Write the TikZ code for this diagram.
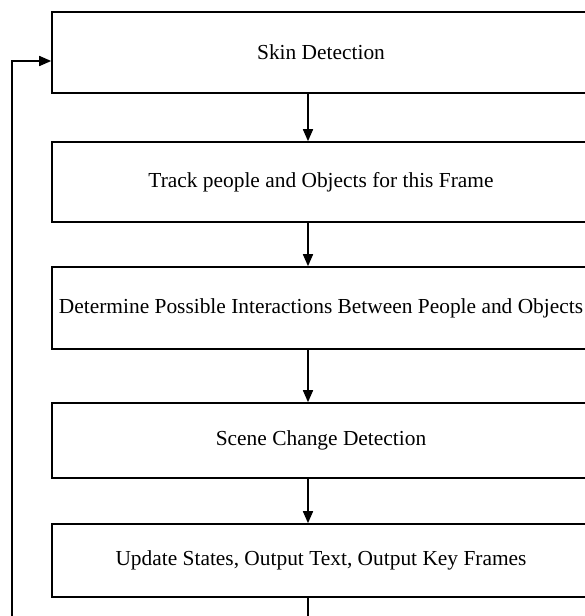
\documentclass[tikz,border=0pt]{standalone}
\usepackage{fontspec}
\setmainfont{Liberation Serif}
\usetikzlibrary{arrows.meta,positioning,calc}
\tikzset{
  stagebox/.style={draw, line width=1.6pt, minimum width=538pt, anchor=center, inner sep=0pt, font=\fontsize{21.4}{25}\selectfont},
  flow/.style={line width=1.6pt, -{Triangle[length=12pt,width=10pt]}}
}

\begin{document}
\begin{tikzpicture}[x=1pt, y=1pt]
    \clip (0,0) rectangle (585,-616);
    % Nodes
    \node[stagebox, minimum height=81pt] (skin) at (321,-52.5) {Skin Detection};
    \node[stagebox, minimum height=80pt] (track) at (321,-182) {Track people and Objects for this Frame};
    \node[stagebox, minimum height=82pt] (inter) at (321,-308) {Determine Possible Interactions Between People and Objects};
    \node[stagebox, minimum height=75pt] (scene) at (321,-440.5) {Scene Change Detection};
    \node[stagebox, minimum height=73pt] (update) at (321,-560.5) {Update States, Output Text, Output Key Frames};
    \coordinate (loopdown) at (308,-630);
    \coordinate (loopleft) at (12,-630);
    \coordinate (loopup) at (12,-61);

    % Paths
    \draw[flow] (skin.south -| 308,0) -- (track.north -| 308,0);
    \draw[flow] (track.south -| 308,0) -- (inter.north -| 308,0);
    \draw[flow] (inter.south -| 308,0) -- (scene.north -| 308,0);
    \draw[flow] (scene.south -| 308,0) -- (update.north -| 308,0);
    \draw[flow] (update.south -| loopdown) -- (loopdown) -- (loopleft) -- (loopup) -- (loopup -| skin.west);
  \end{tikzpicture}
\end{document}
